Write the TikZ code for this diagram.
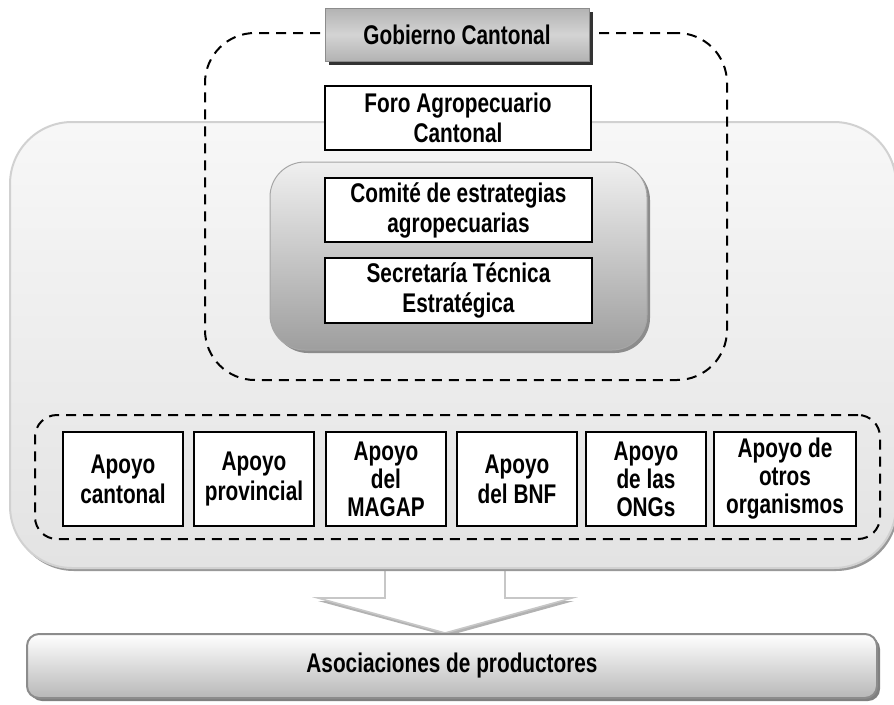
\documentclass[tikz,border=0pt]{standalone}
\usepackage{fontspec}
\setmainfont{Liberation Sans}[FakeStretch=0.77]
\begin{document}
\begin{tikzpicture}[x=1pt,y=-1pt,
  txt/.style={font=\bfseries\fontsize{27}{30}\selectfont, align=center, inner sep=0pt},
  wbox/.style={txt, draw=black, line width=1.4, fill=white},
  tri/.style={font=\bfseries\fontsize{27}{28}\selectfont},
  dashbox/.style={draw=black, line width=2, dash pattern=on 10pt off 7pt},
]
\useasboundingbox (0,0) rectangle (894,704);

% ---- down arrow (behind panel)
\fill[black!30] (318,601) -- (447,636) -- (574,601) -- cycle;
\draw[draw=black!22, line width=1.6, fill=white, line join=miter]
  (385,560) -- (385,598) -- (318,598) -- (445,633) -- (572,598) -- (505,598) -- (505,560);

% ---- big panel
\fill[black!40, rounded corners=62] (12,125) rectangle (898,571);
\node[draw=black!18, line width=2, rounded corners=62, top color=black!3, bottom color=black!11,
      minimum width=886, minimum height=446, inner sep=0] (panel) at (453,345) {};

% ---- dashed top group
\node[dashbox, rounded corners=50, minimum width=522, minimum height=347, inner sep=0] (topgrp) at (466,206.5) {};

% ---- Gobierno Cantonal
\fill[black!80] (329,12) rectangle (593,65);
\node[txt, draw=black!45, line width=0.6, top color=black!30, bottom color=black!30, middle color=black!17,
      minimum width=264, minimum height=53] (gob) at (457,34.5) {Gobierno Cantonal};

% ---- Foro
\node[wbox, minimum width=266, minimum height=64] (foro) at (458,118) {Foro Agropecuario\\Cantonal};

% ---- gray group
\fill[black!45, rounded corners=35] (273,165) rectangle (650,353);
\node[draw=black!35, line width=1, rounded corners=35, top color=black!6, bottom color=black!38,
      minimum width=377, minimum height=188, inner sep=0] (grp) at (458.5,256) {};
\node[wbox, minimum width=267, minimum height=64] (comite) at (458.5,210) {Comité de estrategias\\agropecuarias};
\node[wbox, minimum width=267, minimum height=65] (secre) at (458.5,290.5) {Secretaría Técnica\\Estratégica};

% ---- dashed bottom group
\node[dashbox, rounded corners=22, minimum width=845, minimum height=124, inner sep=0] (botgrp) at (457.5,477) {};

\node[wbox, minimum width=120, minimum height=94] (a1) at (123,479) {Apoyo\\cantonal};
\node[wbox, minimum width=120, minimum height=94] (a2) at (254,479) {Apoyo\\provincial};
\node[wbox, tri, minimum width=120, minimum height=94] (a3) at (386,479) {Apoyo\\del\\MAGAP};
\node[wbox, minimum width=120, minimum height=94] (a4) at (517,479) {Apoyo\\del BNF};
\node[wbox, tri, minimum width=120, minimum height=94] (a5) at (646,479) {Apoyo\\de las\\ONGs};
\node[wbox, tri, minimum width=142, minimum height=94] (a6) at (785,479) {Apoyo de\\otros\\organismos};

% ---- Asociaciones
\fill[black!50, rounded corners=12] (30,637) rectangle (880,701);
\node[txt, draw=black!45, line width=2, rounded corners=12, top color=white, bottom color=black!28,
      minimum width=850, minimum height=64] (asoc) at (452,666) {Asociaciones de productores};
\end{tikzpicture}
\end{document}
